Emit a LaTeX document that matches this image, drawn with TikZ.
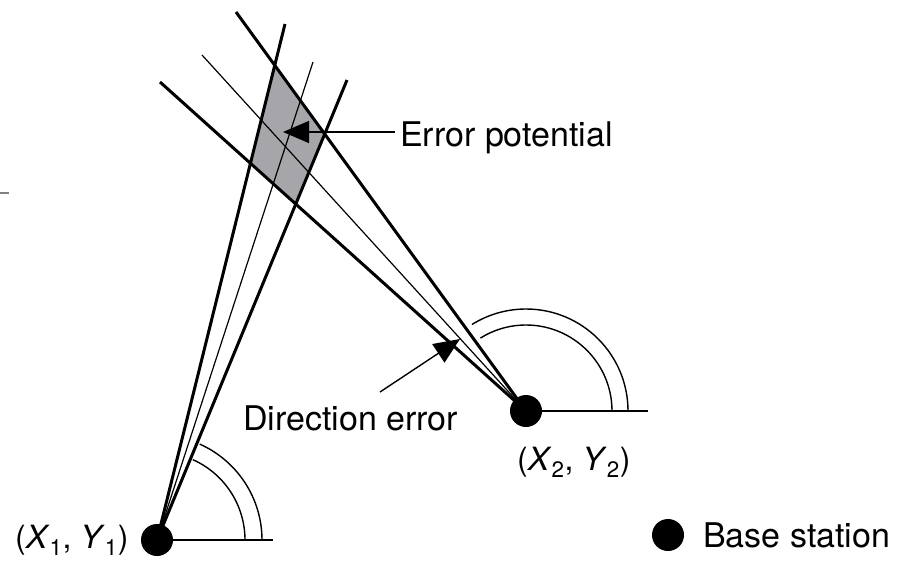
\documentclass[tikz,border=0pt]{standalone}
\usepackage{fontspec}
\setmainfont{TeX Gyre Heros}
\usetikzlibrary{arrows.meta}
\begin{document}
\begin{tikzpicture}[x=1pt,y=-1pt,
  bold/.style={line width=3pt},
  thinray/.style={line width=1.2pt},
  arcline/.style={line width=1.4pt},
  station/.style={circle,fill=black,inner sep=0pt,minimum size=32pt},
  lbl/.style={inner sep=0pt,anchor=base west,font=\fontsize{34}{40}\selectfont},
  coordlbl/.style={inner sep=0pt,anchor=base west,font=\fontsize{32}{38}\selectfont},
  pointer/.style={line width=1.4pt,-{Triangle[length=26pt,width=22pt]}}]
\useasboundingbox (0,0) rectangle (904,568);
% stations centres
\coordinate (c1) at (157,540);
\coordinate (c2) at (526,411);
% ray ends
\coordinate (a1) at (285,24);   % S1 upper bold
\coordinate (a2) at (347,80);   % S1 lower bold
\coordinate (a0) at (313,62);   % S1 centre thin
\coordinate (b1) at (236,12);   % S2 upper bold
\coordinate (b2) at (160,82);   % S2 lower bold
\coordinate (b0) at (202,55);   % S2 centre thin
% error region
\fill[fill={rgb,255:red,165;green,165;blue,170}]
  (intersection of c1--a1 and c2--b1) --
  (intersection of c1--a2 and c2--b1) --
  (intersection of c1--a2 and c2--b2) --
  (intersection of c1--a1 and c2--b2) -- cycle;
% rays
\draw[bold] (c1) -- (a1);
\draw[bold] (c1) -- (a2);
\draw[thinray] (c1) -- (a0);
\draw[bold] (c2) -- (b1);
\draw[bold] (c2) -- (b2);
\draw[thinray] (c2) -- (b0);
% reference lines and angle arcs
\coordinate (h1) at (273,540);
\coordinate (h2) at (648,411);
\draw[arcline] (c1) -- (h1);
\draw[arcline] (c2) -- (h2);
\draw[arcline] ([xshift=88pt]c1) arc[start angle=0,end angle=66,radius=88pt];
\draw[arcline] ([xshift=105pt]c1) arc[start angle=0,end angle=66,radius=105pt];
\draw[arcline] ([xshift=86pt]c2) arc[start angle=0,end angle=122,radius=86pt];
\draw[arcline] ([xshift=102pt]c2) arc[start angle=0,end angle=122,radius=102pt];
% stations
\node[station] (s1) at (c1) {};
\node[station] (s2) at (c2) {};
% labels
\node[coordlbl] (l1) at (15,548) {(\textit{X}\textsubscript{1}, \textit{Y}\textsubscript{1})};
\node[coordlbl] (l2) at (517,470) {(\textit{X}\textsubscript{2}, \textit{Y}\textsubscript{2})};
\node[lbl] (ep) at (400,146.5) {Error potential};
\node[lbl] (de) at (243,430) {Direction error};
\node[station] (leg) at (668,535) {};
\node[lbl] (bs) at (703,547) {Base station};
% pointers
\coordinate (eptip) at (283,132);
\coordinate (eptail) at (395,132);
\draw[pointer] (eptail) -- (eptip);
\coordinate (detail) at (380,392);
\coordinate (detip) at (460,339);
\draw[pointer] (detail) -- (detip);
% stray mark at left edge
\coordinate (m1) at (0,193);
\coordinate (m2) at (9,193);
\draw[line width=1.5pt,gray] (m1) -- (m2);
\end{tikzpicture}
\end{document}
